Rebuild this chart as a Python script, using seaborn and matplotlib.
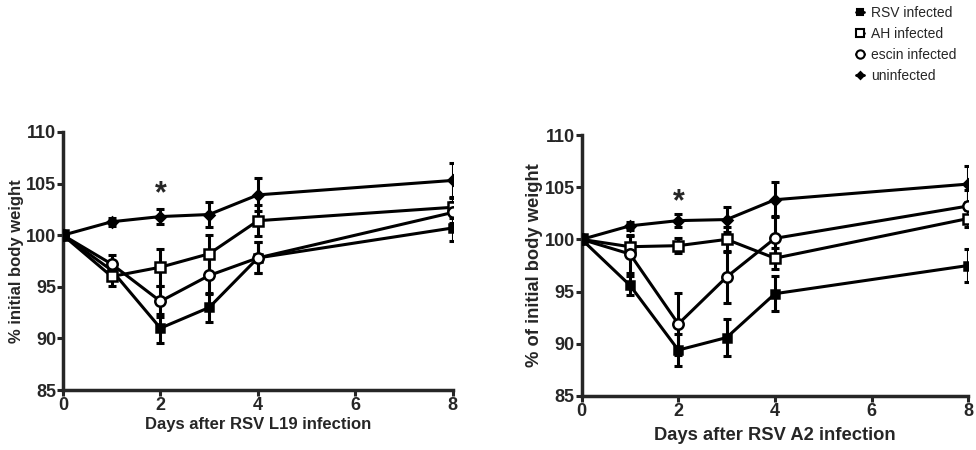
import numpy as np
import matplotlib
matplotlib.use("Agg")
import matplotlib.pyplot as plt
import seaborn as sns
from matplotlib.lines import Line2D

sns.set_style("ticks")
plt.rcParams['font.family'] = ['Liberation Sans', 'DejaVu Sans']

days = [0, 1, 2, 3, 4, 8]
groups = ["RSV infected", "AH infected", "escin infected", "uninfected"]

# RSV L19 panel: means and error bars
l19_mean = {
    "RSV infected":   [100, 96.6, 91.0, 93.0, 97.8, 100.7],
    "AH infected":    [100, 96.0, 96.9, 98.2, 101.4, 102.7],
    "escin infected": [100, 97.2, 93.6, 96.1, 97.8, 102.2],
    "uninfected":     [100, 101.3, 101.8, 102.0, 103.9, 105.3],
}
l19_err = {
    "RSV infected":   [0, 0.8, 1.4, 1.4, 1.5, 1.3],
    "AH infected":    [0, 0.9, 1.8, 1.8, 1.5, 1.0],
    "escin infected": [0, 0.9, 1.5, 1.8, 1.5, 1.0],
    "uninfected":     [0, 0.4, 0.7, 1.2, 1.6, 1.7],
}

# RSV A2 panel
a2_mean = {
    "RSV infected":   [100, 95.6, 89.4, 90.6, 94.8, 97.5],
    "AH infected":    [100, 99.3, 99.4, 100.0, 98.2, 102.0],
    "escin infected": [100, 98.6, 91.9, 96.4, 100.1, 103.2],
    "uninfected":     [100, 101.3, 101.8, 101.9, 103.8, 105.3],
}
a2_err = {
    "RSV infected":   [0, 0.9, 1.5, 1.8, 1.7, 1.6],
    "AH infected":    [0, 1.0, 0.7, 1.2, 1.0, 0.8],
    "escin infected": [0, 1.8, 3.0, 2.5, 2.1, 1.5],
    "uninfected":     [0, 0.4, 0.6, 1.2, 1.7, 1.7],
}

markers = {"RSV infected": "s", "AH infected": "s", "escin infected": "o", "uninfected": "D"}
faces = {"RSV infected": "black", "AH infected": "white", "escin infected": "white", "uninfected": "black"}
sizes = {"RSV infected": 6, "AH infected": 7.5, "escin infected": 7.5, "uninfected": 5}

fig = plt.figure(figsize=(9.76, 4.5), dpi=100)
ax1 = fig.add_axes([0.0645, 0.133, 0.3995, 0.574])
ax2 = fig.add_axes([0.596, 0.120, 0.396, 0.580])


def draw_panel(ax, means, errs, ylabel, xlabel, star_y, lab_size, xpad):
    for g in groups:
        ax.errorbar(days, means[g], yerr=errs[g], fmt='none', ecolor='black',
                    elinewidth=2.2, capsize=3, capthick=2.2, zorder=2)
        sns.lineplot(x=days, y=means[g], ax=ax, color='black', linewidth=2.2,
                     marker=markers[g], markersize=sizes[g], markerfacecolor=faces[g],
                     markeredgecolor='black', markeredgewidth=1.8, zorder=3)
    ax.set_xlim(0, 8)
    ax.set_ylim(85, 110)
    ax.set_xticks([0, 2, 4, 6, 8])
    ax.set_yticks([85, 90, 95, 100, 105, 110])
    ax.set_xlabel(xlabel, fontsize=lab_size, fontweight='bold', labelpad=xpad)
    ax.set_ylabel(ylabel, fontsize=lab_size, fontweight='bold', labelpad=1)
    for lab in ax.get_xticklabels() + ax.get_yticklabels():
        lab.set_fontweight('bold')
        lab.set_fontsize(13)
    ax.tick_params(width=2.2, length=4, pad=1)
    for s in ['left', 'bottom']:
        ax.spines[s].set_linewidth(2.5)
    sns.despine(ax=ax)
    ax.text(2, star_y, "*", ha='center', va='center', fontsize=22, fontweight='bold')


draw_panel(ax1, l19_mean, l19_err, "% initial body weight", "Days after RSV L19 infection", 104.0, 12, 2)
draw_panel(ax2, a2_mean, a2_err, "% of initial body weight", "Days after RSV A2 infection", 103.6, 13.2, 5)

handles = [Line2D([0], [0], color='black', linewidth=2, marker=markers[g],
                  markersize=sizes[g] - 1.5, markerfacecolor=faces[g],
                  markeredgecolor='black', markeredgewidth=1.5) for g in groups]
fig.legend(handles, groups, loc='upper right', bbox_to_anchor=(0.993, 1.014),
           frameon=False, fontsize=10, handlelength=0.6, handletextpad=0.5,
           labelspacing=0.5)

fig.savefig("out.png", dpi=100)
